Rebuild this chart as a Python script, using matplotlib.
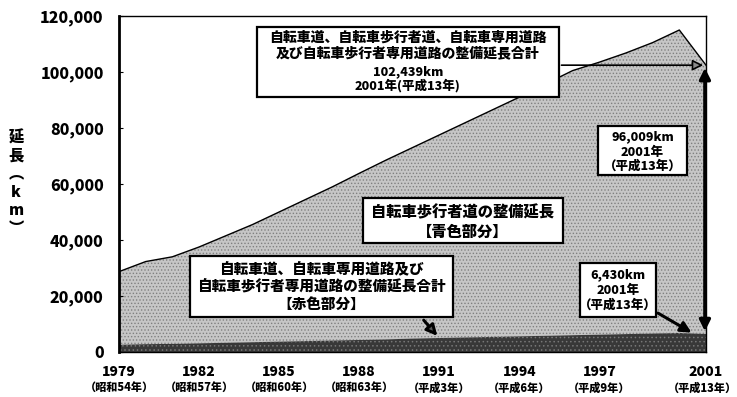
import matplotlib
matplotlib.use("Agg")
import matplotlib.pyplot as plt
from matplotlib.patches import Rectangle
from matplotlib.ticker import FuncFormatter

plt.rcParams["font.family"] = ["Noto Sans CJK JP", "DejaVu Sans"]
plt.rcParams["font.weight"] = "black"
plt.rcParams["hatch.linewidth"] = 0.6
W = "black"

# 整備延長 (km) 1979-2001
years = list(range(1979, 2002))
# 自転車道・自転車専用道路・自転車歩行者専用道路 (赤色部分)
red_km = [2600, 2800, 2900, 3100, 3300, 3500, 3700, 3900, 4100, 4300, 4500, 4800,
          5000, 5200, 5400, 5600, 5800, 6000, 6200, 6400, 6600, 6800, 6430]
# 自転車歩行者道 (青色部分)
blue_km = [26100, 29500, 31100, 34400, 38200, 42000, 46300, 50600, 54900, 59500,
           64000, 68200, 72500, 76800, 81100, 85400, 90000, 94500, 97300, 100400,
           103900, 108200, 96009]
total_km = [r + b for r, b in zip(red_km, blue_km)]

tick_years = [1979, 1982, 1985, 1988, 1991, 1994, 1997, 2001]
era_labels = ["（昭和54年）", "（昭和57年）", "（昭和60年）", "（昭和63年）",
              "（平成3年）", "（平成6年）", "（平成9年）", "（平成13年）"]

fig = plt.figure(figsize=(7.37, 3.97), dpi=100)
ax = fig.add_axes([119 / 737, 1 - 352 / 397, 587 / 737, 336 / 397])

ax.fill_between(years, red_km, total_km, facecolor="#c6c6c6",
                edgecolor="#808080", hatch=".....", lw=0)
ax.fill_between(years, 0, red_km, facecolor="#383838",
                edgecolor="#777777", hatch="....", lw=0)
ax.plot(years, total_km, color="black", lw=1.0)

ax.set_xlim(years[0], years[-1])
ax.set_ylim(0, 120000)
ax.set_yticks(range(0, 120001, 20000))
ax.yaxis.set_major_formatter(FuncFormatter(lambda v, p: f"{int(v):,}"))
ax.tick_params(axis="y", direction="in", length=3, pad=11, labelsize=11.5)
ax.set_xticks(tick_years)
ax.set_xticklabels([])
ax.tick_params(axis="x", length=0)
for lbl in ax.get_yticklabels():
    lbl.set_fontweight(W)

ax.spines["left"].set_linewidth(2.0)
for s in ("top", "right", "bottom"):
    ax.spines[s].set_linewidth(1.0)

# 年 / 元号ラベル (右端は枠内に収める)
tr = ax.get_xaxis_transform()
for y, era in zip(tick_years, era_labels):
    ax.text(y, -0.06, str(y), transform=tr, ha="center", va="center",
            fontsize=10, fontweight=W)
    ax.text(y - (0.15 if y == tick_years[-1] else 0), -0.105, era,
            transform=tr, ha="center", va="center", fontsize=8, fontweight=W)

# 縦書きの軸ラベル
fig.text(16 / 737, 1 - 183 / 397, "延\n長\n︵\nk\nm\n︶", ha="center",
         va="center", fontsize=11, fontweight=W, linespacing=1.25)


def box(x0, y0, w, h):
    ax.add_patch(Rectangle((x0, y0), w, h, transform=ax.transAxes,
                           facecolor="white", edgecolor="black", lw=1.6,
                           zorder=6, clip_on=False))


def lines(cx, ys, texts, sizes):
    for y, t, s in zip(ys, texts, sizes):
        ax.text(cx, y, t, transform=ax.transAxes, ha="center", va="center",
                fontsize=s, fontweight=W, zorder=7)


# 合計
box(0.235, 0.759, 0.514, 0.208)
lines(0.492, [0.935, 0.890, 0.836, 0.794],
      ["自転車道、自転車歩行者道、自転車専用道路",
       "及び自転車歩行者専用道路の整備延長合計",
       f"{total_km[-1]:,}km", "2001年(平成13年)"],
      [10, 10, 9, 9])
ax.annotate("", xy=(years[-1], total_km[-1]), xytext=(0.749, total_km[-1]),
            textcoords=("axes fraction", "data"),
            arrowprops=dict(arrowstyle="-|>", color="black", lw=1.2,
                            mutation_scale=16, fc="#8a8a8a"),
            annotation_clip=False, zorder=8)

# 自転車歩行者道 (2001)
box(0.816, 0.527, 0.152, 0.146)
lines(0.892, [0.640, 0.597, 0.556],
      [f"{blue_km[-1]:,}km", "2001年", "（平成13年）"], [9, 9, 9])
ax.annotate("", xy=(years[-1] - 0.04, red_km[-1]),
            xytext=(years[-1] - 0.04, total_km[-1]),
            arrowprops=dict(arrowstyle="<|-|>", color="black", lw=2.5,
                            mutation_scale=16),
            annotation_clip=False, zorder=8)

# 自転車道等 (2001)
box(0.785, 0.104, 0.129, 0.161)
lines(0.850, [0.229, 0.184, 0.142],
      [f"{red_km[-1]:,}km", "2001年", "（平成13年）"], [9, 9, 9])
ax.annotate("", xy=(years[-1] - 0.45, red_km[-1]), xytext=(0.914, 0.12),
            textcoords="axes fraction",
            arrowprops=dict(arrowstyle="-|>", color="black", lw=2.2,
                            mutation_scale=16),
            annotation_clip=False, zorder=8)

# 凡例代わりの説明
box(0.416, 0.324, 0.341, 0.134)
lines(0.586, [0.414, 0.357], ["自転車歩行者道の整備延長", "【青色部分】"],
      [11, 11])

box(0.121, 0.104, 0.448, 0.182)
lines(0.345, [0.244, 0.192, 0.143],
      ["自転車道、自転車専用道路及び", "自転車歩行者専用道路の整備延長合計",
       "【赤色部分】"], [10.5, 10.5, 10.5])
ax.annotate("", xy=(1991, red_km[12]), xytext=(0.516, 0.101),
            textcoords="axes fraction",
            arrowprops=dict(arrowstyle="-|>", color="black", lw=2.2,
                            mutation_scale=16, fc="#555555"),
            annotation_clip=False, zorder=8)

fig.savefig("out.png", dpi=100)
